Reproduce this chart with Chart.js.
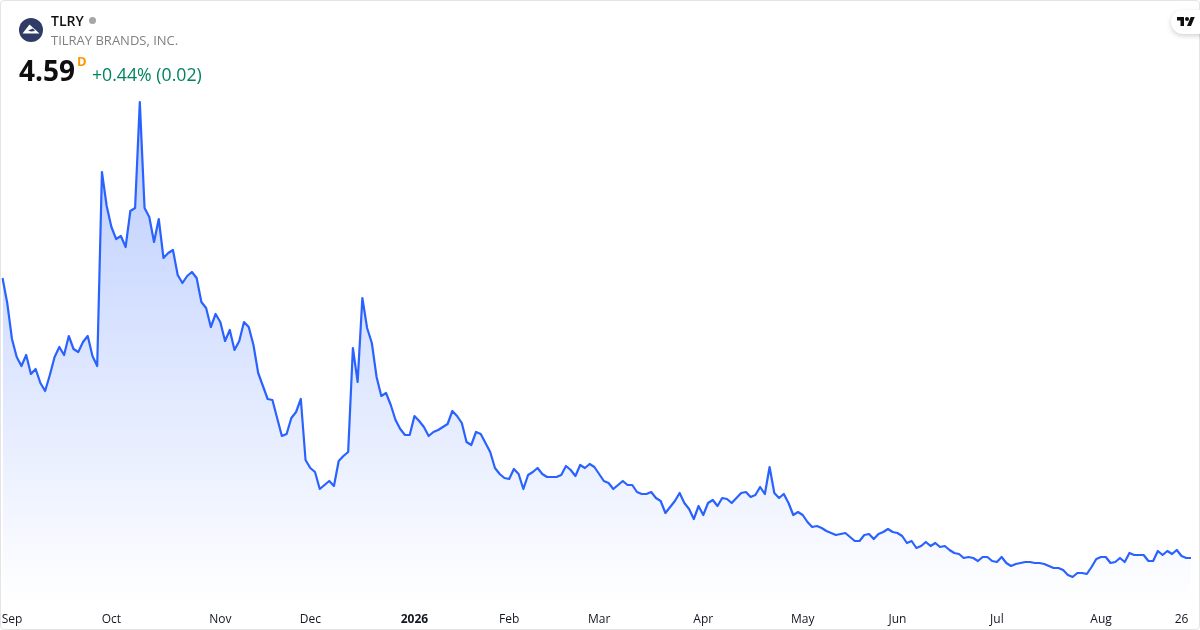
<!DOCTYPE html>
<html>
<head>
<meta charset="utf-8">
<title>TLRY</title>
<script src="https://cdn.jsdelivr.net/npm/chart.js@4"></script>
<style>
  html, body { margin: 0; padding: 0; background: #fff; }
  #card { position: relative; width: 1200px; height: 630px; overflow: hidden; font-family: "Open Sans", sans-serif; }
  #myChart { position: absolute; left: 0; top: 0; }
  #frame { position: absolute; left: 0; top: 0; width: 1198px; height: 628px; border: 1px solid #e4e4e4; border-radius: 4px; pointer-events: none; }
  .txt { position: absolute; white-space: nowrap; line-height: 1; }
  #logo { position: absolute; left: 19px; top: 18px; }
  #dot { position: absolute; left: 89px; top: 17px; width: 7px; height: 7px; border-radius: 50%; background: #a6a6a6; }
  #badge { position: absolute; left: 1171px; top: 10px; width: 40px; height: 24px; border-radius: 12px; background: #fff; box-shadow: 0 2px 5px rgba(0,0,0,.18); }
  #tv { position: absolute; left: 1177px; top: 15px; }
</style>
</head>
<body>
<div id="card">
  <canvas id="myChart" width="1200" height="630"></canvas>
  <div id="frame"></div>
  <svg id="logo" width="24" height="24" viewBox="0 0 24 24">
    <circle cx="12" cy="12" r="12" fill="#2e3c66"/>
    <path d="M3.5 15.5 L10.5 6.5 L20.5 15.5 Z" fill="#fff"/>
    <path d="M9 12.5 L14 10.5 L16 13 L12 13.5 Z" fill="#2e3c66"/>
  </svg>
  <div class="txt" style="left:51px;top:14px;font-size:14px;font-weight:600;color:#0f0f0f">TLRY</div>
  <div id="dot"></div>
  <div class="txt" style="left:51px;top:34px;font-size:13px;color:#808080">TILRAY BRANDS, INC.</div>
  <div class="txt" style="left:19px;top:56px;font-size:28px;font-weight:700;color:#0f0f0f">4.59</div>
  <div class="txt" style="left:77px;top:55px;font-size:13px;font-weight:700;color:#ff9800">D</div>
  <div class="txt" style="left:92px;top:66px;font-size:17.7px;color:#00845f">+0.44% (0.02)</div>
  <div id="badge"></div>
  <svg id="tv" width="18" height="14" viewBox="0 0 36 28">
    <path d="M14 22H7V11H0V4h14v18zM28 22h-8l7.5-18h8L28 22z" fill="#0f0f0f"/>
    <circle cx="20" cy="8" r="4" fill="#0f0f0f"/>
  </svg>
</div>
<script>
var prices = [
  15.79,14.79,13.35,12.63,12.27,12.71,11.95,12.15,11.59,11.27,11.91,12.63,13.03,12.71,13.47,12.95,12.83,13.23,13.47,12.67,
  12.27,20.03,18.67,17.83,17.35,17.47,17.03,18.47,18.59,22.83,18.59,18.23,17.23,18.15,16.59,16.79,16.91,15.91,15.59,15.87,
  16.03,15.79,14.83,14.59,13.83,14.35,14.03,13.27,13.71,12.91,13.27,14.03,13.83,13.11,11.99,11.47,10.95,10.91,10.19,9.47,
  9.55,10.19,10.43,10.95,8.51,8.19,8.03,7.35,7.51,7.67,7.47,8.47,8.67,8.83,12.99,11.63,14.99,13.79,13.19,11.83,
  11.07,11.19,10.71,10.11,9.75,9.51,9.51,10.27,10.07,9.83,9.47,9.63,9.71,9.83,9.95,10.47,10.27,9.99,9.23,9.11,
  9.63,9.55,9.19,8.83,8.19,7.95,7.79,7.75,8.15,7.95,7.35,7.91,8.03,8.19,7.95,7.83,7.83,7.83,7.91,8.27,
  8.11,7.87,8.31,8.19,8.35,8.23,7.95,7.67,7.59,7.35,7.51,7.67,7.51,7.51,7.23,7.15,7.15,7.23,6.99,6.87,
  6.39,6.63,6.87,7.19,6.79,6.55,6.15,6.67,6.31,6.79,6.91,6.67,6.99,6.95,6.79,6.99,7.19,7.23,7.03,7.11,
  7.43,7.15,8.23,7.19,6.99,7.15,6.79,6.31,6.43,6.31,6.03,5.83,5.87,5.79,5.67,5.59,5.51,5.55,5.59,5.43,
  5.27,5.27,5.51,5.55,5.35,5.55,5.63,5.75,5.63,5.59,5.47,5.19,5.27,4.99,5.07,5.23,5.07,5.19,5.03,5.07,
  4.91,4.79,4.75,4.59,4.63,4.59,4.47,4.63,4.63,4.47,4.43,4.63,4.39,4.27,4.35,4.39,4.43,4.43,4.39,4.39,
  4.35,4.27,4.19,4.19,4.11,3.91,3.83,3.99,3.99,3.95,4.23,4.55,4.63,4.63,4.39,4.43,4.59,4.43,4.79,4.71,
  4.71,4.71,4.47,4.47,4.87,4.71,4.87,4.75,4.91,4.67,4.59,4.59
];
var tickLabels = ['Sep', 'Oct', 'Nov', 'Dec', '2026', 'Feb', 'Mar', 'Apr', 'May', 'Jun', 'Jul', 'Aug', '26'];
var tickIndex = [2, 23, 46, 65, 87, 107, 126, 148, 169, 189, 210, 232, 249];

// category labels are blank except where a tick label sits
var labels = prices.map(function (p, i) {
  var k = tickIndex.indexOf(i);
  return k >= 0 ? tickLabels[k] : '';
});

var ctx = document.getElementById('myChart').getContext('2d');
var myChart = new Chart(ctx, {
  type: 'line',
  data: {
    labels: labels,
    datasets: [{
      data: prices,
      borderColor: '#2962ff',
      borderWidth: 2.2,
      borderJoinStyle: 'round',
      pointRadius: 0,
      tension: 0,
      fill: 'start',
      backgroundColor: function (context) {
        var area = context.chart.chartArea;
        if (!area) return 'rgba(41,98,255,0.2)';
        var g = context.chart.ctx.createLinearGradient(0, 102, 0, area.bottom);
        g.addColorStop(0, 'rgba(41,98,255,0.33)');
        g.addColorStop(1, 'rgba(41,98,255,0)');
        return g;
      }
    }]
  },
  options: {
    responsive: false,
    animation: false,
    devicePixelRatio: 1,
    layout: { autoPadding: false, padding: { left: 2.5, right: 9, top: 0, bottom: 0 } },
    plugins: { legend: { display: false }, tooltip: { enabled: false } },
    scales: {
      x: {
        grid: { display: false },
        border: { display: false },
        afterFit: function (axis) {
          axis.height = 26;
          axis.paddingLeft = 0;
          axis.paddingRight = 0;
        },
        ticks: {
          autoSkip: false,
          maxRotation: 0,
          padding: 0,
          color: '#131722',
          font: function (c) {
            var bold = c.tick && c.tick.label === '2026';
            return { family: '"Open Sans", sans-serif', size: 12, weight: bold ? 'bold' : 'normal' };
          }
        }
      },
      y: { display: false, min: 2.75, max: 26.91 }
    }
  }
});
</script>
</body>
</html>
